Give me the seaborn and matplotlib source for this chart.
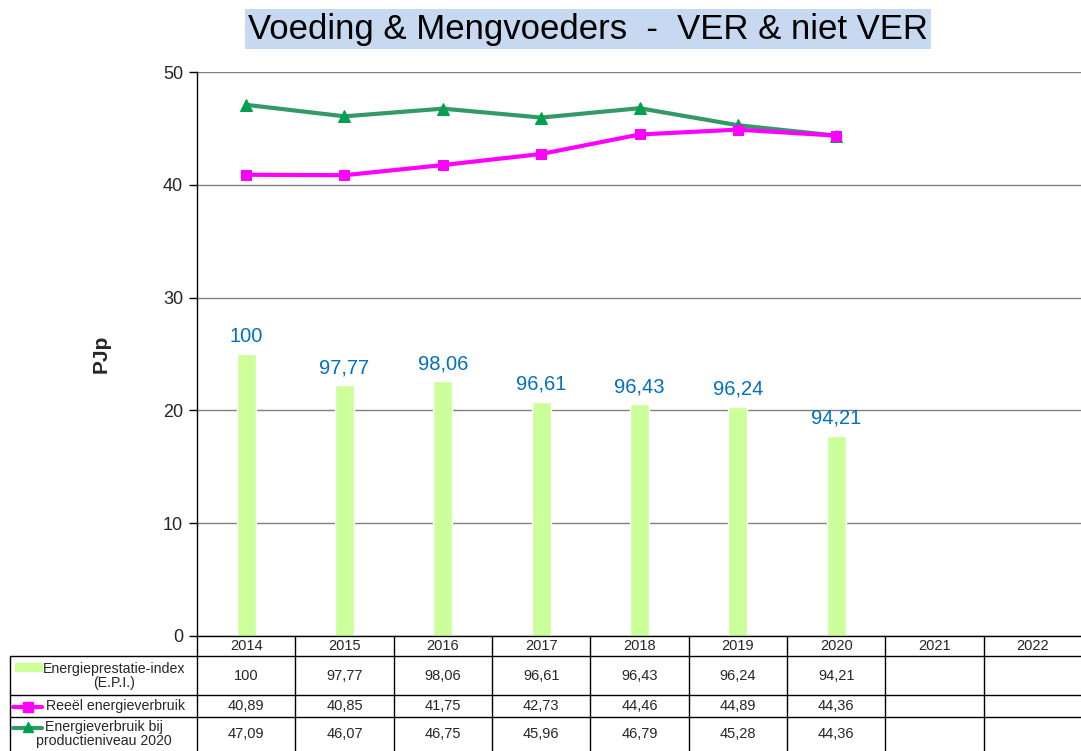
import matplotlib
matplotlib.use("Agg")
import matplotlib.pyplot as plt
import seaborn as sns
import pandas as pd
from matplotlib.patches import Rectangle
from matplotlib.lines import Line2D

# ---- data -------------------------------------------------------------
years = ["2014", "2015", "2016", "2017", "2018", "2019", "2020", "2021", "2022"]
epi = [100, 97.77, 98.06, 96.61, 96.43, 96.24, 94.21]
reeel = [40.89, 40.85, 41.75, 42.73, 44.46, 44.89, 44.36]
prod2020 = [47.09, 46.07, 46.75, 45.96, 46.79, 45.28, 44.36]

row_labels = ["Energieprestatie-index\n(E.P.I.)",
              "Reeël energieverbruik",
              "Energieverbruik bij\nproductieniveau 2020"]

# ---- style ------------------------------------------------------------
sns.set_theme(style="white")
plt.rcParams["font.family"] = ["Liberation Sans", "DejaVu Sans"]

BAR_C = "#ccff99"
MAG = "#ff00ff"
GRN_LINE = "#339966"
GRN_MARK = "#00a050"
LBL_BLUE = "#0070c0"
GRID_C = "#808080"


def fmt(v):
    return ("%g" % round(v, 2)).replace(".", ",")


W, H = 1081, 751
fig = plt.figure(figsize=(W / 100, H / 100), dpi=100)


def px_box(l, t, r, b):
    return [l / W, 1 - b / H, (r - l) / W, (b - t) / H]


# ---- chart axes -------------------------------------------------------
ax = fig.add_axes(px_box(197, 72, 1082, 636))
axb = ax.twinx()

df_bar = pd.DataFrame({"jaar": years[:len(epi)], "epi": epi})
sns.barplot(data=df_bar, x="jaar", y="epi", order=years, color=BAR_C,
            saturation=1, width=0.19, ax=axb, zorder=2)
axb.set_ylim(80, 120)
axb.set_yticks([80, 88, 96, 104, 112, 120])
axb.yaxis.grid(True, color=GRID_C, linewidth=1)
axb.set_axisbelow(True)
axb.tick_params(axis="y", right=False, labelright=False)
axb.set_ylabel("")
axb.set_xlabel("")
for s in axb.spines.values():
    s.set_visible(False)

bars = axb.containers[0]
axb.bar_label(bars, labels=[fmt(b.get_height()) for b in bars],
              padding=6, color=LBL_BLUE, fontsize=14.5)

df_line = pd.DataFrame({"pos": range(len(reeel)), "reeel": reeel,
                        "prod": prod2020})
sns.lineplot(data=df_line, x="pos", y="prod", ax=ax, color=GRN_LINE,
             linewidth=3, marker="^", markersize=8,
             markerfacecolor=GRN_MARK, markeredgecolor=GRN_MARK)
sns.lineplot(data=df_line, x="pos", y="reeel", ax=ax, color=MAG,
             linewidth=3, marker="s", markersize=7,
             markerfacecolor=MAG, markeredgecolor=MAG)

ax.set_zorder(axb.get_zorder() + 1)
ax.patch.set_visible(False)
ax.set_xlim(-0.5, len(years) - 0.5)
ax.set_ylim(0, 50)
ax.set_yticks(range(0, 51, 10))
ax.grid(False)
ax.tick_params(axis="x", bottom=False, labelbottom=False)
ax.tick_params(axis="y", left=True, length=6, width=1, color="black",
               labelsize=13, pad=4)
ax.set_xlabel("")
ax.set_ylabel("PJp", fontsize=15, fontweight="bold")
ax.yaxis.set_label_coords(-0.098, 0.5)
for name, s in ax.spines.items():
    if name in ("top", "right"):
        s.set_visible(False)
    else:
        s.set_color("black")
        s.set_linewidth(1)

# ---- data table below the chart ------------------------------------------
cw = 885 / len(years)              # pixel width of one year column
lab_w = (197 - 10) / cw            # label column width in column units
tax = fig.add_axes(px_box(10, 636, 1082, 751))
tax.set_xlim(-0.5 - lab_w, len(years) - 0.5)
tax.set_ylim(115, 0)
tax.axis("off")

row_edges = [0, 20, 59, 81, 115]
x_left = -0.5 - lab_w
x_right = len(years) - 0.5
line_kw = dict(color="black", linewidth=1, clip_on=False)

for k in range(len(years) + 1):
    tax.add_line(Line2D([-0.5 + k, -0.5 + k], [0, 115], **line_kw))
tax.add_line(Line2D([x_left, x_left], [20, 115], **line_kw))
for y in row_edges[1:4]:
    tax.add_line(Line2D([x_left, x_right], [y, y], **line_kw))

tfs = 10.5
for i, yr in enumerate(years):
    tax.text(i, 10, yr, ha="center", va="center", fontsize=tfs)

rows = [epi, reeel, prod2020]
for r, vals in enumerate(rows):
    yc = (row_edges[r + 1] + row_edges[r + 2]) / 2
    for i, v in enumerate(vals):
        tax.text(i, yc, fmt(v), ha="center", va="center", fontsize=tfs)


def xp(px):
    # pixel column in the figure -> table data x
    return -0.5 + (px - 197) / cw


# legend keys in the label column
lfs = 10.2
tax.add_patch(Rectangle((xp(15), 27), xp(42) - xp(15), 8, color=BAR_C,
                        clip_on=False))
tax.add_line(Line2D([xp(13), xp(42)], [71, 71], color=MAG, linewidth=3,
                    clip_on=False))
tax.add_line(Line2D([xp(27.5)], [71], color=MAG, marker="s", markersize=7,
                    clip_on=False))
tax.add_line(Line2D([xp(13), xp(42)], [92, 92], color=GRN_LINE, linewidth=3,
                    clip_on=False))
tax.add_line(Line2D([xp(27.5)], [91], color=GRN_MARK, marker="^",
                    markersize=7, clip_on=False))

tax.text(xp(114), 39.5, row_labels[0], ha="center", va="center",
         fontsize=lfs, linespacing=1.0)
tax.text(xp(115), 70, row_labels[1], ha="center", va="center", fontsize=lfs)
tax.text(xp(104), 98.5, row_labels[2], ha="center", va="center",
         fontsize=lfs, linespacing=1.0)

# ---- title ------------------------------------------------------------
fig.text(588 / W, 1 - 29 / H, "Voeding & Mengvoeders  -  VER & niet VER",
         ha="center", va="center", fontsize=25, color="black",
         bbox=dict(boxstyle="square,pad=0.1", facecolor="#c6d9f1",
                   edgecolor="none"))

fig.savefig("out.png", dpi=100)
